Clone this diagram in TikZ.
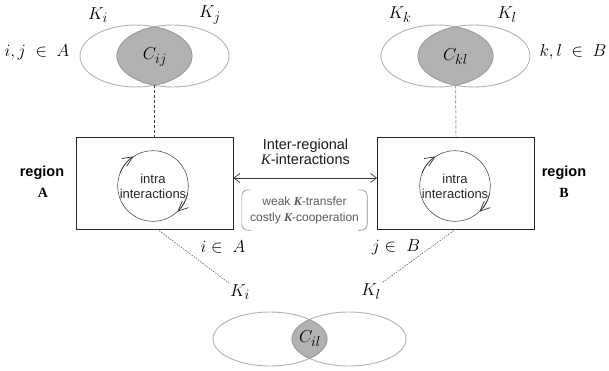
\documentclass[tikz,border=0pt]{standalone}
\usepackage{fontspec}
\setmainfont{Liberation Sans}
\newfontfamily\tms{Liberation Serif}
\usetikzlibrary{arrows.meta}
\begin{document}
\begin{tikzpicture}[x=1pt,y=1pt,
  ell/.style={draw=black!30, line width=0.9pt},
  lensfill/.style={fill=black!30},
  lensline/.style={draw=black!40, line width=0.7pt},
  mathlbl/.style={font=\fontsize{19}{22}\selectfont, inner sep=1pt},
  regbox/.style={draw=black!85, line width=0.8pt, minimum width=157pt, minimum height=92pt, inner sep=0pt},
  loopc/.style={circle, draw=black!80, line width=0.5pt, minimum size=70pt, inner sep=0pt, align=center, text=black!85, font=\fontsize{13}{15}\selectfont},
  barb/.style={-{Straight Barb[length=10pt,width=9pt,line width=0.7pt]}},
  dbarb/.style={{Straight Barb[length=6pt,width=9pt]}-{Straight Barb[length=6pt,width=9pt]}},
  dashdark/.style={draw=black!75, line width=0.7pt, dash pattern=on 3pt off 2pt},
  dashlight/.style={draw=black!35, line width=1pt, dash pattern=on 3pt off 2pt},
  dotline/.style={draw=black!70, line width=0.5pt, dash pattern=on 1.5pt off 1.2pt},
  brk/.style={draw=black!45, line width=0.6pt},
  regword/.style={inner sep=1pt, font=\fontsize{14.5}{16}\selectfont\bfseries},
  regletter/.style={inner sep=1pt, font=\tms\fontsize{14}{16}\selectfont\bfseries}
]
\useasboundingbox (0,0) rectangle (609,370);

% ---------- top-left ellipses ----------
\draw[ell] (136,314) ellipse [x radius=56pt, y radius=31pt];
\draw[ell] (173,314) ellipse [x radius=56pt, y radius=31pt];
\begin{scope}
  \clip (136,314) ellipse [x radius=56pt, y radius=31pt];
  \fill[lensfill] (173,314) ellipse [x radius=56pt, y radius=31pt];
  \draw[lensline] (173,314) ellipse [x radius=56pt, y radius=31pt];
\end{scope}
\begin{scope}
  \clip (173,314) ellipse [x radius=56pt, y radius=31pt];
  \draw[lensline] (136,314) ellipse [x radius=56pt, y radius=31pt];
\end{scope}
\node[mathlbl] (Cij) at (155,313) {$C_{ij}$};
\node[mathlbl] (Ki) at (98,355) {$K_i$};
\node[mathlbl] (Kj) at (210,355) {$K_j$};
\node[mathlbl] (ijA) at (37,318) {$i,j\;\in\;A$};
\coordinate (lensA) at (154.5,284.7);

% ---------- top-right ellipses ----------
\draw[ell] (437,314) ellipse [x radius=56pt, y radius=31pt];
\draw[ell] (474,314) ellipse [x radius=56pt, y radius=31pt];
\begin{scope}
  \clip (437,314) ellipse [x radius=56pt, y radius=31pt];
  \fill[lensfill] (474,314) ellipse [x radius=56pt, y radius=31pt];
  \draw[lensline] (474,314) ellipse [x radius=56pt, y radius=31pt];
\end{scope}
\begin{scope}
  \clip (474,314) ellipse [x radius=56pt, y radius=31pt];
  \draw[lensline] (437,314) ellipse [x radius=56pt, y radius=31pt];
\end{scope}
\node[mathlbl] (Ckl) at (455.5,313) {$C_{kl}$};
\node[mathlbl] (Kk) at (400,355) {$K_k$};
\node[mathlbl] (Kl) at (507,355) {$K_l$};
\node[mathlbl] (klB) at (573,318) {$k,l\;\in\;B$};
\coordinate (lensB) at (455.5,284.7);

% ---------- region boxes ----------
\node[regbox] (rA) at (154.5,187) {};
\node[regbox] (rB) at (456,187) {};
\node[loopc] (cA) at (153,184) {intra\\interactions};
\node[loopc] (cB) at (455,184) {intra\\interactions};
\draw[barb, draw=black!80, line width=0.55pt] (cA.158) arc[start angle=158, end angle=123, radius=35pt];
\draw[barb, draw=black!80, line width=0.55pt] (cA.-12) arc[start angle=-12, end angle=-47, radius=35pt];
\draw[barb, draw=black!80, line width=0.55pt] (cB.158) arc[start angle=158, end angle=123, radius=35pt];
\draw[barb, draw=black!80, line width=0.55pt] (cB.-12) arc[start angle=-12, end angle=-47, radius=35pt];

\node[regword] (regA) at (42,197) {region};
\node[regletter] (letA) at (43,177) {A};
\node[regword] (regB) at (564,197) {region};
\node[regletter] (letB) at (564,177) {B};

% ---------- inter-regional arrow ----------
\draw[dbarb, draw=black!80, line width=0.7pt] ([yshift=5pt]rA.east) -- ([yshift=5pt]rB.west);
\node[align=center, text=black!90, font=\fontsize{14.5}{15}\selectfont] (inter) at (305.5,218) {Inter-regional\\{\tms\itshape K}-interactions};

\node[minimum width=125pt, minimum height=40pt, inner sep=0pt, align=center, text=black!65, font=\fontsize{12}{16}\selectfont] (bx) at (304.5,160)
  {weak {\tms\bfseries\itshape K}-transfer\\costly {\tms\bfseries\itshape K}-cooperation};
\draw[brk] ([xshift=9pt]bx.north west) -- ([xshift=6pt]bx.north west) arc[start angle=90, end angle=180, radius=6pt]
  -- ([yshift=6pt]bx.south west) arc[start angle=180, end angle=270, radius=6pt] -- ([xshift=9pt]bx.south west);
\draw[brk] ([xshift=-9pt]bx.north east) -- ([xshift=-6pt]bx.north east) arc[start angle=90, end angle=0, radius=6pt]
  -- ([yshift=6pt]bx.south east) arc[start angle=0, end angle=-90, radius=6pt] -- ([xshift=-9pt]bx.south east);

% ---------- top dashed connectors ----------
\draw[dashdark] (lensA) -- (rA.north);
\draw[dashlight] (lensB) -- (rB.north);

% ---------- bottom ellipses ----------
\draw[ell] (270,31) ellipse [x radius=57pt, y radius=27pt];
\draw[ell] (349,31) ellipse [x radius=57pt, y radius=27pt];
\begin{scope}
  \clip (270,31) ellipse [x radius=57pt, y radius=27pt];
  \fill[lensfill] (349,31) ellipse [x radius=57pt, y radius=27pt];
  \draw[lensline] (349,31) ellipse [x radius=57pt, y radius=27pt];
\end{scope}
\begin{scope}
  \clip (349,31) ellipse [x radius=57pt, y radius=27pt];
  \draw[lensline] (270,31) ellipse [x radius=57pt, y radius=27pt];
\end{scope}
\node[mathlbl] (Cil) at (310,31) {$C_{il}$};
\node[mathlbl] (Kib) at (240,78) {$K_i$};
\node[mathlbl] (Klb) at (371,78) {$K_l$};
\node[mathlbl] (iA) at (223,123) {$i\in\ A$};
\node[mathlbl] (jB) at (396,123) {$j\in\ B$};

\coordinate (dA) at (157,141);
\coordinate (dB) at (456,141);
\draw[dotline] (dA) -- (Kib.north west);
\draw[dotline] (dB) -- (Klb.north east);
\end{tikzpicture}
\end{document}
